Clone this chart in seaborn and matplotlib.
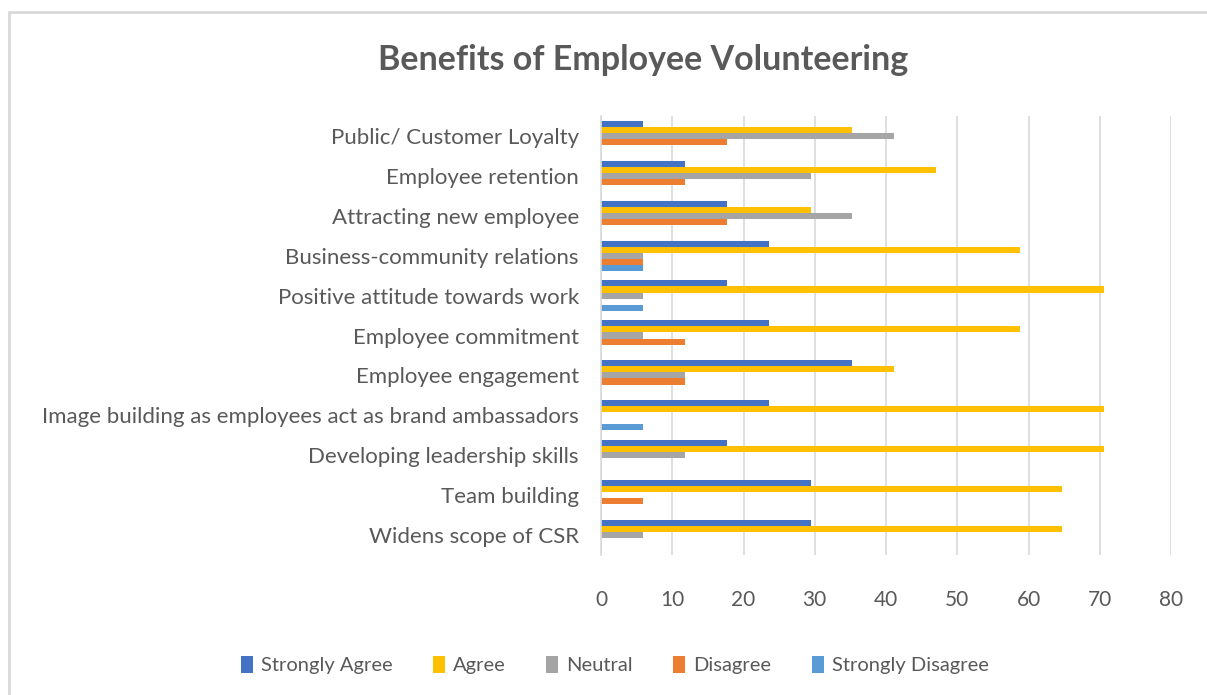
import matplotlib
matplotlib.use("Agg")
import matplotlib.pyplot as plt
from matplotlib.lines import Line2D
from matplotlib.patches import Patch
import seaborn as sns
import pandas as pd

categories = [
    "Public/ Customer Loyalty",
    "Employee retention",
    "Attracting new employee",
    "Business-community relations",
    "Positive attitude towards work",
    "Employee commitment",
    "Employee engagement",
    "Image building as employees act as brand ambassadors",
    "Developing leadership skills",
    "Team building",
    "Widens scope of CSR",
]
series_names = ["Strongly Agree", "Agree", "Neutral", "Disagree", "Strongly Disagree"]
strongly_agree = [5.88, 11.76, 17.65, 23.53, 17.65, 23.53, 35.29, 23.53, 17.65, 29.41, 29.41]
agree = [35.29, 47.06, 29.41, 58.82, 70.59, 58.82, 41.18, 70.59, 70.59, 64.71, 64.71]
neutral = [41.18, 29.41, 35.29, 5.88, 5.88, 5.88, 11.76, 0, 11.76, 0, 5.88]
disagree = [17.65, 11.76, 17.65, 5.88, 0, 11.76, 11.76, 0, 0, 5.88, 0]
strongly_disagree = [0, 0, 0, 5.88, 5.88, 0, 0, 5.88, 0, 0, 0]
x_ticks = [0, 10, 20, 30, 40, 50, 60, 70, 80]

colors = ["#4472C4", "#FFC000", "#A5A5A5", "#ED7D31", "#5B9BD5"]

rows = []
for name, vals in zip(series_names, [strongly_agree, agree, neutral, disagree, strongly_disagree]):
    for c, v in zip(categories, vals):
        rows.append({"Category": c, "Response": name, "Value": v})
df = pd.DataFrame(rows)

sns.set_style("white")
plt.rcParams["font.family"] = ["Lato", "DejaVu Sans"]

fig = plt.figure(figsize=(12.07, 6.95), dpi=100)
ax = fig.add_axes([601 / 1207, 1 - 555 / 695, (1171 - 601) / 1207, (555 - 116) / 695])

sns.barplot(data=df, y="Category", x="Value", hue="Response", order=categories,
            hue_order=series_names, palette=colors, orient="h", width=0.76,
            ax=ax, legend=False, saturation=1, linewidth=0)

ax.set_xlim(0, 80)
ax.set_ylim(len(categories) - 0.5, -0.5)
ax.set_xticks(x_ticks)
ax.set_xticklabels([str(t) for t in x_ticks])
ax.set_xlabel("")
ax.set_ylabel("")
ax.grid(axis="x", color="#D9D9D9", linewidth=1.2)
ax.set_axisbelow(True)
for s in ["top", "right", "bottom"]:
    ax.spines[s].set_visible(False)
ax.spines["left"].set_color("#D9D9D9")
ax.spines["left"].set_linewidth(1.2)
ax.tick_params(axis="x", length=0, pad=25, labelsize=15, labelcolor="#595959")
ax.tick_params(axis="y", length=0, pad=16, labelsize=16, labelcolor="#595959")

fig.text(643 / 1207, 1 - 60 / 695, "Benefits of Employee Volunteering", ha="center", va="center",
         fontsize=24.5, fontweight="bold", color="#595959")

handles = [Patch(facecolor=c, edgecolor="none") for c in colors]
fig.legend(handles, series_names, loc="center", bbox_to_anchor=(615 / 1207, 1 - 665 / 695),
           ncol=5, frameon=False, fontsize=14.5, labelcolor="#595959",
           handlelength=0.6, handleheight=0.9, handletextpad=0.4, columnspacing=2.0)

fig.add_artist(Line2D([9 / 1207, 1.0], [1 - 12 / 695, 1 - 12 / 695], transform=fig.transFigure,
                      color="#D9D9D9", linewidth=2))
fig.add_artist(Line2D([9 / 1207, 9 / 1207], [0, 1 - 12 / 695], transform=fig.transFigure,
                      color="#D9D9D9", linewidth=2))

fig.savefig("out.png", dpi=100, facecolor="white")
